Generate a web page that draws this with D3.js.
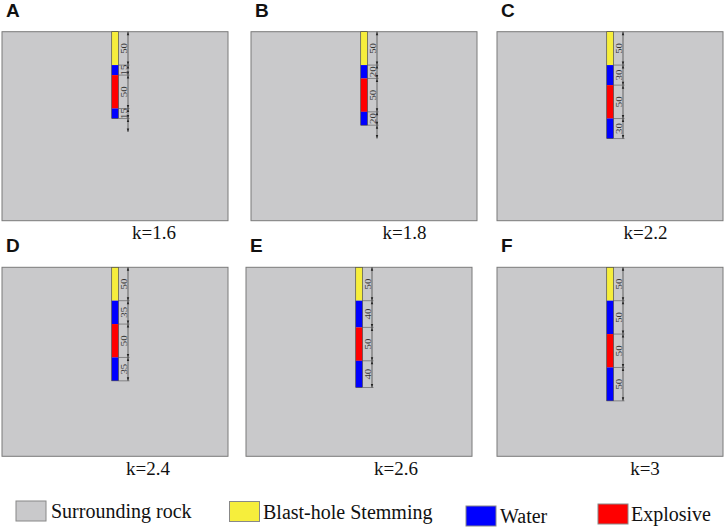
<!DOCTYPE html>
<html>
<head>
<meta charset="utf-8">
<script src="https://cdn.jsdelivr.net/npm/d3@7"></script>
<style>
  html, body { margin: 0; padding: 0; background: #fff; }
  svg { display: block; }
  .serif { font-family: 'Liberation Serif', 'Times New Roman', serif; }
  .sans { font-family: 'Liberation Sans', Arial, sans-serif; }
</style>
</head>
<body>
<svg id="chart" width="726" height="528"></svg>
<script>
// ---- data ----
const panelLabels = ["A", "B", "C", "D", "E", "F"];
const kValues = ["1.6", "1.8", "2.2", "2.4", "2.6", "3"];
const stemmingLen = [50, 50, 50, 50, 50, 50];
const waterTopLen = [15, 20, 30, 35, 40, 50];
const explosiveLen = [50, 50, 50, 50, 50, 50];
const waterBottomLen = [15, 20, 30, 35, 40, 50];
const dimTailLen = [20, 20, 0, 0, 0, 0];
const materials = ["Surrounding rock", "Blast-hole Stemming", "Water", "Explosive"];
const materialColors = ["#c9c9cb", "#f6ee3c", "#0000ff", "#ff0000"];

// ---- layout ----
const svg = d3.select("#chart");
const boxW = 226, boxH = 189;
const boxX = [2, 251, 497, 2, 246, 497];
const boxY = [31.7, 31.7, 31.7, 267.3, 267.3, 267.3];
const kOffset = [152, 153.5, 148.5, 146, 150, 148];
const domainH = 283, domainW = 339;

const segColors = [materialColors[1], materialColors[2], materialColors[3], materialColors[2]];

panelLabels.forEach((lab, i) => {
  const g = svg.append("g");
  const x = d3.scaleLinear().domain([0, domainW]).range([boxX[i], boxX[i] + boxW]);
  const y = d3.scaleLinear().domain([0, domainH]).range([boxY[i], boxY[i] + boxH]);

  // panel letter
  g.append("text")
    .attr("class", "sans")
    .attr("x", boxX[i] + 4).attr("y", boxY[i] - 15)
    .attr("font-weight", "bold").attr("font-size", 19)
    .attr("fill", "#111").text(lab);

  // rock box
  g.append("rect")
    .attr("x", x(0)).attr("y", y(0))
    .attr("width", x(domainW) - x(0)).attr("height", y(domainH) - y(0))
    .attr("fill", materialColors[0]).attr("stroke", "#7a7a7a").attr("stroke-width", 1);

  // segments
  const lens = [stemmingLen[i], waterTopLen[i], explosiveLen[i], waterBottomLen[i]];
  const ends = Array.from(d3.cumsum(lens));
  const segs = lens.map((l, j) => ({ y0: j === 0 ? 0 : ends[j - 1], y1: ends[j], len: l, color: segColors[j] }));

  const holeX0 = 164.6, holeX1 = 174.6, dimU = 189;
  const hx0 = x(holeX0), hx1 = x(holeX1), dx = x(dimU);

  g.selectAll("rect.seg").data(segs).join("rect")
    .attr("class", "seg")
    .attr("x", hx0).attr("y", d => y(d.y0))
    .attr("width", hx1 - hx0).attr("height", d => y(d.y1) - y(d.y0))
    .attr("fill", d => d.color);
  g.append("rect")
    .attr("x", hx0).attr("y", y(0))
    .attr("width", hx1 - hx0).attr("height", y(ends[3]) - y(0))
    .attr("fill", "none").attr("stroke", "#3a3a3a").attr("stroke-width", 0.6);

  // extension lines
  const bounds = [0].concat(ends);
  g.selectAll("line.ext").data(bounds.slice(1)).join("line")
    .attr("class", "ext")
    .attr("x1", hx1).attr("x2", dx + 1.5)
    .attr("y1", d => y(d)).attr("y2", d => y(d))
    .attr("stroke", "#555").attr("stroke-width", 0.6);

  // dimension line
  const totalEnd = ends[3] + dimTailLen[i];
  g.append("line")
    .attr("x1", dx).attr("x2", dx)
    .attr("y1", y(0)).attr("y2", y(totalEnd))
    .attr("stroke", "#333").attr("stroke-width", 0.7);

  const dimSegs = segs.map(d => ({ y0: d.y0, y1: d.y1 }));
  if (dimTailLen[i] > 0) dimSegs.push({ y0: ends[3], y1: totalEnd });
  const arrows = [];
  dimSegs.forEach(d => {
    arrows.push({ tip: y(d.y0), dir: -1 });
    arrows.push({ tip: y(d.y1), dir: 1 });
  });
  g.selectAll("path.arr").data(arrows).join("path")
    .attr("class", "arr")
    .attr("d", a => `M${dx},${a.tip} L${dx - 1.2},${a.tip - a.dir * 3.5} L${dx + 1.2},${a.tip - a.dir * 3.5} Z`)
    .attr("fill", "#222");

  // dimension labels
  g.selectAll("text.dim").data(segs).join("text")
    .attr("class", "dim serif")
    .attr("transform", d => `translate(${dx - 1.3},${(y(d.y0) + y(d.y1)) / 2}) rotate(-90) scale(1.45,1)`)
    .attr("text-anchor", "middle")
    .attr("font-size", 7.5)
    .attr("fill", "#333")
    .text(d => d.len);

  // k label
  g.append("text")
    .attr("class", "serif")
    .attr("x", boxX[i] + kOffset[i]).attr("y", boxY[i] + boxH + 18.5)
    .attr("text-anchor", "middle")
    .attr("font-size", 19)
    .attr("fill", "#111")
    .text("k=" + kValues[i]);
});

// ---- legend ----
const legX = [16, 229.5, 466, 598];
const legY = [501, 501.5, 506, 504];
const legTextX = [51, 263, 500, 631];
const leg = svg.append("g");
materials.forEach((m, i) => {
  leg.append("rect")
    .attr("x", legX[i]).attr("y", legY[i]).attr("width", 30).attr("height", 20)
    .attr("fill", materialColors[i]).attr("stroke", "#888").attr("stroke-width", 1);
  leg.append("text")
    .attr("class", "serif")
    .attr("x", legTextX[i]).attr("y", legY[i] + 17)
    .attr("font-size", 20)
    .attr("fill", "#111")
    .text(m);
});
</script>
</body>
</html>
